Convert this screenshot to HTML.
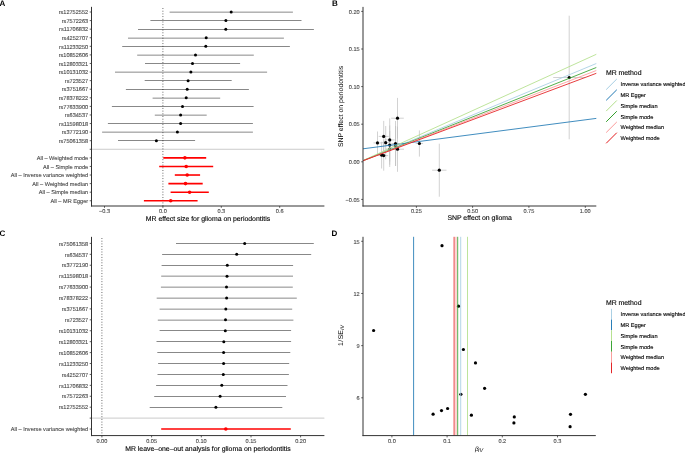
<!DOCTYPE html>
<html><head><meta charset="utf-8"><style>
html,body{margin:0;padding:0;background:#fff;}
body{width:685px;height:453px;overflow:hidden;}
svg{display:block;font-family:"Liberation Sans", sans-serif;will-change:transform;text-rendering:geometricPrecision;}
</style></head><body>
<svg width="685" height="453" viewBox="0 0 685 453">
<rect width="685" height="453" fill="#fff"/>
<text x="-0.50" y="6.00" font-size="8.0" text-anchor="start" fill="#000" stroke="#000" stroke-width="0" font-weight="bold" >A</text>
<text x="331.90" y="6.00" font-size="8.0" text-anchor="start" fill="#000" stroke="#000" stroke-width="0" font-weight="bold" >B</text>
<text x="-0.50" y="235.90" font-size="8.0" text-anchor="start" fill="#000" stroke="#000" stroke-width="0" font-weight="bold" >C</text>
<text x="331.50" y="236.00" font-size="8.0" text-anchor="start" fill="#000" stroke="#000" stroke-width="0" font-weight="bold" >D</text>
<line x1="91.50" y1="149.28" x2="324.40" y2="149.28" stroke="#BEBEBE" stroke-width="0.8" />
<line x1="162.90" y1="8.05" x2="162.90" y2="206.00" stroke="#000" stroke-width="0.65" stroke-dasharray="0.9 1.8"/>
<line x1="169.60" y1="12.15" x2="292.90" y2="12.15" stroke="#000" stroke-width="0.47" />
<circle cx="231.20" cy="12.00" r="1.5" fill="#000"/>
<line x1="150.40" y1="20.50" x2="301.50" y2="20.50" stroke="#000" stroke-width="0.47" />
<circle cx="225.90" cy="20.58" r="1.5" fill="#000"/>
<line x1="138.00" y1="29.50" x2="313.90" y2="29.50" stroke="#000" stroke-width="0.47" />
<circle cx="225.80" cy="29.16" r="1.5" fill="#000"/>
<line x1="128.00" y1="38.15" x2="283.90" y2="38.15" stroke="#000" stroke-width="0.47" />
<circle cx="206.20" cy="37.74" r="1.5" fill="#000"/>
<line x1="122.20" y1="46.50" x2="289.90" y2="46.50" stroke="#000" stroke-width="0.47" />
<circle cx="205.80" cy="46.32" r="1.5" fill="#000"/>
<line x1="137.20" y1="55.15" x2="253.80" y2="55.15" stroke="#000" stroke-width="0.47" />
<circle cx="195.50" cy="54.90" r="1.5" fill="#000"/>
<line x1="145.00" y1="63.50" x2="240.10" y2="63.50" stroke="#000" stroke-width="0.47" />
<circle cx="192.50" cy="63.48" r="1.5" fill="#000"/>
<line x1="115.00" y1="72.15" x2="267.10" y2="72.15" stroke="#000" stroke-width="0.47" />
<circle cx="190.90" cy="72.06" r="1.5" fill="#000"/>
<line x1="144.70" y1="80.50" x2="231.70" y2="80.50" stroke="#000" stroke-width="0.47" />
<circle cx="188.10" cy="80.64" r="1.5" fill="#000"/>
<line x1="125.90" y1="89.50" x2="248.90" y2="89.50" stroke="#000" stroke-width="0.47" />
<circle cx="187.20" cy="89.22" r="1.5" fill="#000"/>
<line x1="152.60" y1="98.15" x2="220.20" y2="98.15" stroke="#000" stroke-width="0.47" />
<circle cx="186.20" cy="97.80" r="1.5" fill="#000"/>
<line x1="111.90" y1="106.50" x2="253.60" y2="106.50" stroke="#000" stroke-width="0.47" />
<circle cx="182.50" cy="106.38" r="1.5" fill="#000"/>
<line x1="154.80" y1="115.15" x2="206.70" y2="115.15" stroke="#000" stroke-width="0.47" />
<circle cx="180.60" cy="114.96" r="1.5" fill="#000"/>
<line x1="107.90" y1="123.50" x2="252.90" y2="123.50" stroke="#000" stroke-width="0.47" />
<circle cx="180.60" cy="123.54" r="1.5" fill="#000"/>
<line x1="102.10" y1="132.15" x2="252.90" y2="132.15" stroke="#000" stroke-width="0.47" />
<circle cx="177.40" cy="132.12" r="1.5" fill="#000"/>
<line x1="118.00" y1="140.50" x2="195.10" y2="140.50" stroke="#000" stroke-width="0.47" />
<circle cx="156.40" cy="140.70" r="1.5" fill="#000"/>
<line x1="163.30" y1="157.86" x2="206.20" y2="157.86" stroke="#FF0000" stroke-width="1.6" />
<circle cx="184.90" cy="157.86" r="1.8" fill="#FF0000"/>
<line x1="159.20" y1="166.44" x2="213.20" y2="166.44" stroke="#FF0000" stroke-width="1.6" />
<circle cx="186.20" cy="166.44" r="1.8" fill="#FF0000"/>
<line x1="174.80" y1="175.02" x2="200.10" y2="175.02" stroke="#FF0000" stroke-width="1.6" />
<circle cx="187.20" cy="175.02" r="1.8" fill="#FF0000"/>
<line x1="168.40" y1="183.60" x2="202.70" y2="183.60" stroke="#FF0000" stroke-width="1.6" />
<circle cx="185.50" cy="183.60" r="1.8" fill="#FF0000"/>
<line x1="170.60" y1="192.18" x2="208.80" y2="192.18" stroke="#FF0000" stroke-width="1.6" />
<circle cx="189.60" cy="192.18" r="1.8" fill="#FF0000"/>
<line x1="143.90" y1="200.76" x2="197.60" y2="200.76" stroke="#FF0000" stroke-width="1.6" />
<circle cx="170.70" cy="200.76" r="1.8" fill="#FF0000"/>
<line x1="91.50" y1="6.85" x2="91.50" y2="206.50" stroke="#333333" stroke-width="1.0" />
<line x1="91.00" y1="206.00" x2="324.40" y2="206.00" stroke="#333333" stroke-width="1.0" />
<line x1="89.70" y1="12.00" x2="91.50" y2="12.00" stroke="#333333" stroke-width="0.8" />
<text x="88.20" y="14.20" font-size="5.6" text-anchor="end" fill="#4D4D4D" stroke="#4D4D4D" stroke-width="0.12" font-weight="normal" >rs12752552</text>
<line x1="89.70" y1="20.58" x2="91.50" y2="20.58" stroke="#333333" stroke-width="0.8" />
<text x="88.20" y="22.78" font-size="5.6" text-anchor="end" fill="#4D4D4D" stroke="#4D4D4D" stroke-width="0.12" font-weight="normal" >rs7572263</text>
<line x1="89.70" y1="29.16" x2="91.50" y2="29.16" stroke="#333333" stroke-width="0.8" />
<text x="88.20" y="31.36" font-size="5.6" text-anchor="end" fill="#4D4D4D" stroke="#4D4D4D" stroke-width="0.12" font-weight="normal" >rs11706832</text>
<line x1="89.70" y1="37.74" x2="91.50" y2="37.74" stroke="#333333" stroke-width="0.8" />
<text x="88.20" y="39.94" font-size="5.6" text-anchor="end" fill="#4D4D4D" stroke="#4D4D4D" stroke-width="0.12" font-weight="normal" >rs4252707</text>
<line x1="89.70" y1="46.32" x2="91.50" y2="46.32" stroke="#333333" stroke-width="0.8" />
<text x="88.20" y="48.52" font-size="5.6" text-anchor="end" fill="#4D4D4D" stroke="#4D4D4D" stroke-width="0.12" font-weight="normal" >rs11233250</text>
<line x1="89.70" y1="54.90" x2="91.50" y2="54.90" stroke="#333333" stroke-width="0.8" />
<text x="88.20" y="57.10" font-size="5.6" text-anchor="end" fill="#4D4D4D" stroke="#4D4D4D" stroke-width="0.12" font-weight="normal" >rs10852606</text>
<line x1="89.70" y1="63.48" x2="91.50" y2="63.48" stroke="#333333" stroke-width="0.8" />
<text x="88.20" y="65.68" font-size="5.6" text-anchor="end" fill="#4D4D4D" stroke="#4D4D4D" stroke-width="0.12" font-weight="normal" >rs12803321</text>
<line x1="89.70" y1="72.06" x2="91.50" y2="72.06" stroke="#333333" stroke-width="0.8" />
<text x="88.20" y="74.26" font-size="5.6" text-anchor="end" fill="#4D4D4D" stroke="#4D4D4D" stroke-width="0.12" font-weight="normal" >rs10131032</text>
<line x1="89.70" y1="80.64" x2="91.50" y2="80.64" stroke="#333333" stroke-width="0.8" />
<text x="88.20" y="82.84" font-size="5.6" text-anchor="end" fill="#4D4D4D" stroke="#4D4D4D" stroke-width="0.12" font-weight="normal" >rs723527</text>
<line x1="89.70" y1="89.22" x2="91.50" y2="89.22" stroke="#333333" stroke-width="0.8" />
<text x="88.20" y="91.42" font-size="5.6" text-anchor="end" fill="#4D4D4D" stroke="#4D4D4D" stroke-width="0.12" font-weight="normal" >rs3751667</text>
<line x1="89.70" y1="97.80" x2="91.50" y2="97.80" stroke="#333333" stroke-width="0.8" />
<text x="88.20" y="100.00" font-size="5.6" text-anchor="end" fill="#4D4D4D" stroke="#4D4D4D" stroke-width="0.12" font-weight="normal" >rs78378222</text>
<line x1="89.70" y1="106.38" x2="91.50" y2="106.38" stroke="#333333" stroke-width="0.8" />
<text x="88.20" y="108.58" font-size="5.6" text-anchor="end" fill="#4D4D4D" stroke="#4D4D4D" stroke-width="0.12" font-weight="normal" >rs77633900</text>
<line x1="89.70" y1="114.96" x2="91.50" y2="114.96" stroke="#333333" stroke-width="0.8" />
<text x="88.20" y="117.16" font-size="5.6" text-anchor="end" fill="#4D4D4D" stroke="#4D4D4D" stroke-width="0.12" font-weight="normal" >rs634537</text>
<line x1="89.70" y1="123.54" x2="91.50" y2="123.54" stroke="#333333" stroke-width="0.8" />
<text x="88.20" y="125.74" font-size="5.6" text-anchor="end" fill="#4D4D4D" stroke="#4D4D4D" stroke-width="0.12" font-weight="normal" >rs11598018</text>
<line x1="89.70" y1="132.12" x2="91.50" y2="132.12" stroke="#333333" stroke-width="0.8" />
<text x="88.20" y="134.32" font-size="5.6" text-anchor="end" fill="#4D4D4D" stroke="#4D4D4D" stroke-width="0.12" font-weight="normal" >rs3772190</text>
<line x1="89.70" y1="140.70" x2="91.50" y2="140.70" stroke="#333333" stroke-width="0.8" />
<text x="88.20" y="142.90" font-size="5.6" text-anchor="end" fill="#4D4D4D" stroke="#4D4D4D" stroke-width="0.12" font-weight="normal" >rs75061358</text>
<line x1="89.70" y1="149.28" x2="91.50" y2="149.28" stroke="#333333" stroke-width="0.8" />
<line x1="89.70" y1="157.86" x2="91.50" y2="157.86" stroke="#333333" stroke-width="0.8" />
<text x="88.20" y="160.06" font-size="5.6" text-anchor="end" fill="#4D4D4D" stroke="#4D4D4D" stroke-width="0.12" font-weight="normal" >All – Weighted mode</text>
<line x1="89.70" y1="166.44" x2="91.50" y2="166.44" stroke="#333333" stroke-width="0.8" />
<text x="88.20" y="168.64" font-size="5.6" text-anchor="end" fill="#4D4D4D" stroke="#4D4D4D" stroke-width="0.12" font-weight="normal" >All – Simple mode</text>
<line x1="89.70" y1="175.02" x2="91.50" y2="175.02" stroke="#333333" stroke-width="0.8" />
<text x="88.20" y="177.22" font-size="5.6" text-anchor="end" fill="#4D4D4D" stroke="#4D4D4D" stroke-width="0.12" font-weight="normal" >All – Inverse variance weighted</text>
<line x1="89.70" y1="183.60" x2="91.50" y2="183.60" stroke="#333333" stroke-width="0.8" />
<text x="88.20" y="185.80" font-size="5.6" text-anchor="end" fill="#4D4D4D" stroke="#4D4D4D" stroke-width="0.12" font-weight="normal" >All – Weighted median</text>
<line x1="89.70" y1="192.18" x2="91.50" y2="192.18" stroke="#333333" stroke-width="0.8" />
<text x="88.20" y="194.38" font-size="5.6" text-anchor="end" fill="#4D4D4D" stroke="#4D4D4D" stroke-width="0.12" font-weight="normal" >All – Simple median</text>
<line x1="89.70" y1="200.76" x2="91.50" y2="200.76" stroke="#333333" stroke-width="0.8" />
<text x="88.20" y="202.96" font-size="5.6" text-anchor="end" fill="#4D4D4D" stroke="#4D4D4D" stroke-width="0.12" font-weight="normal" >All – MR Egger</text>
<line x1="104.50" y1="206.00" x2="104.50" y2="207.80" stroke="#333333" stroke-width="0.8" />
<text x="104.50" y="213.10" font-size="5.6" text-anchor="middle" fill="#4D4D4D" stroke="#4D4D4D" stroke-width="0.12" font-weight="normal" >−0.3</text>
<line x1="162.90" y1="206.00" x2="162.90" y2="207.80" stroke="#333333" stroke-width="0.8" />
<text x="162.90" y="213.10" font-size="5.6" text-anchor="middle" fill="#4D4D4D" stroke="#4D4D4D" stroke-width="0.12" font-weight="normal" >0.0</text>
<line x1="221.30" y1="206.00" x2="221.30" y2="207.80" stroke="#333333" stroke-width="0.8" />
<text x="221.30" y="213.10" font-size="5.6" text-anchor="middle" fill="#4D4D4D" stroke="#4D4D4D" stroke-width="0.12" font-weight="normal" >0.3</text>
<line x1="279.70" y1="206.00" x2="279.70" y2="207.80" stroke="#333333" stroke-width="0.8" />
<text x="279.70" y="213.10" font-size="5.6" text-anchor="middle" fill="#4D4D4D" stroke="#4D4D4D" stroke-width="0.12" font-weight="normal" >0.6</text>
<text x="207.95" y="221.07" font-size="6.9" text-anchor="middle" fill="#000" stroke="#000" stroke-width="0.12" font-weight="normal" >MR effect size for glioma on periodontitis</text>
<line x1="91.50" y1="418.12" x2="324.40" y2="418.12" stroke="#BEBEBE" stroke-width="0.8" />
<line x1="101.90" y1="238.05" x2="101.90" y2="435.59" stroke="#000" stroke-width="0.65" stroke-dasharray="0.9 1.8"/>
<line x1="176.00" y1="243.50" x2="313.80" y2="243.50" stroke="#000" stroke-width="0.47" />
<circle cx="244.70" cy="243.40" r="1.5" fill="#000"/>
<line x1="162.10" y1="254.50" x2="311.20" y2="254.50" stroke="#000" stroke-width="0.47" />
<circle cx="236.70" cy="254.32" r="1.5" fill="#000"/>
<line x1="161.60" y1="265.50" x2="293.10" y2="265.50" stroke="#000" stroke-width="0.47" />
<circle cx="227.30" cy="265.24" r="1.5" fill="#000"/>
<line x1="161.20" y1="276.15" x2="293.00" y2="276.15" stroke="#000" stroke-width="0.47" />
<circle cx="227.00" cy="276.16" r="1.5" fill="#000"/>
<line x1="160.90" y1="287.15" x2="292.80" y2="287.15" stroke="#000" stroke-width="0.47" />
<circle cx="226.50" cy="287.08" r="1.5" fill="#000"/>
<line x1="156.70" y1="298.15" x2="296.80" y2="298.15" stroke="#000" stroke-width="0.47" />
<circle cx="226.60" cy="298.00" r="1.5" fill="#000"/>
<line x1="159.60" y1="309.15" x2="292.20" y2="309.15" stroke="#000" stroke-width="0.47" />
<circle cx="225.80" cy="308.92" r="1.5" fill="#000"/>
<line x1="157.80" y1="320.15" x2="293.40" y2="320.15" stroke="#000" stroke-width="0.47" />
<circle cx="225.50" cy="319.84" r="1.5" fill="#000"/>
<line x1="159.60" y1="330.50" x2="291.10" y2="330.50" stroke="#000" stroke-width="0.47" />
<circle cx="225.30" cy="330.76" r="1.5" fill="#000"/>
<line x1="156.50" y1="341.50" x2="291.10" y2="341.50" stroke="#000" stroke-width="0.47" />
<circle cx="223.80" cy="341.68" r="1.5" fill="#000"/>
<line x1="157.30" y1="352.50" x2="290.30" y2="352.50" stroke="#000" stroke-width="0.47" />
<circle cx="223.60" cy="352.60" r="1.5" fill="#000"/>
<line x1="158.10" y1="363.50" x2="289.20" y2="363.50" stroke="#000" stroke-width="0.47" />
<circle cx="223.60" cy="363.52" r="1.5" fill="#000"/>
<line x1="157.50" y1="374.50" x2="288.90" y2="374.50" stroke="#000" stroke-width="0.47" />
<circle cx="223.30" cy="374.44" r="1.5" fill="#000"/>
<line x1="156.10" y1="385.50" x2="287.50" y2="385.50" stroke="#000" stroke-width="0.47" />
<circle cx="221.80" cy="385.36" r="1.5" fill="#000"/>
<line x1="154.20" y1="396.50" x2="286.00" y2="396.50" stroke="#000" stroke-width="0.47" />
<circle cx="220.10" cy="396.28" r="1.5" fill="#000"/>
<line x1="149.70" y1="407.50" x2="282.30" y2="407.50" stroke="#000" stroke-width="0.47" />
<circle cx="215.90" cy="407.20" r="1.5" fill="#000"/>
<line x1="161.20" y1="429.04" x2="290.80" y2="429.04" stroke="#FF0000" stroke-width="1.6" />
<circle cx="225.80" cy="429.04" r="1.8" fill="#FF0000"/>
<line x1="91.50" y1="236.85" x2="91.50" y2="436.09" stroke="#333333" stroke-width="1.0" />
<line x1="91.00" y1="435.59" x2="324.40" y2="435.59" stroke="#333333" stroke-width="1.0" />
<line x1="89.70" y1="243.40" x2="91.50" y2="243.40" stroke="#333333" stroke-width="0.8" />
<text x="88.20" y="245.60" font-size="5.6" text-anchor="end" fill="#4D4D4D" stroke="#4D4D4D" stroke-width="0.12" font-weight="normal" >rs75061358</text>
<line x1="89.70" y1="254.32" x2="91.50" y2="254.32" stroke="#333333" stroke-width="0.8" />
<text x="88.20" y="256.52" font-size="5.6" text-anchor="end" fill="#4D4D4D" stroke="#4D4D4D" stroke-width="0.12" font-weight="normal" >rs634537</text>
<line x1="89.70" y1="265.24" x2="91.50" y2="265.24" stroke="#333333" stroke-width="0.8" />
<text x="88.20" y="267.44" font-size="5.6" text-anchor="end" fill="#4D4D4D" stroke="#4D4D4D" stroke-width="0.12" font-weight="normal" >rs3772190</text>
<line x1="89.70" y1="276.16" x2="91.50" y2="276.16" stroke="#333333" stroke-width="0.8" />
<text x="88.20" y="278.36" font-size="5.6" text-anchor="end" fill="#4D4D4D" stroke="#4D4D4D" stroke-width="0.12" font-weight="normal" >rs11598018</text>
<line x1="89.70" y1="287.08" x2="91.50" y2="287.08" stroke="#333333" stroke-width="0.8" />
<text x="88.20" y="289.28" font-size="5.6" text-anchor="end" fill="#4D4D4D" stroke="#4D4D4D" stroke-width="0.12" font-weight="normal" >rs77633900</text>
<line x1="89.70" y1="298.00" x2="91.50" y2="298.00" stroke="#333333" stroke-width="0.8" />
<text x="88.20" y="300.20" font-size="5.6" text-anchor="end" fill="#4D4D4D" stroke="#4D4D4D" stroke-width="0.12" font-weight="normal" >rs78378222</text>
<line x1="89.70" y1="308.92" x2="91.50" y2="308.92" stroke="#333333" stroke-width="0.8" />
<text x="88.20" y="311.12" font-size="5.6" text-anchor="end" fill="#4D4D4D" stroke="#4D4D4D" stroke-width="0.12" font-weight="normal" >rs3751667</text>
<line x1="89.70" y1="319.84" x2="91.50" y2="319.84" stroke="#333333" stroke-width="0.8" />
<text x="88.20" y="322.04" font-size="5.6" text-anchor="end" fill="#4D4D4D" stroke="#4D4D4D" stroke-width="0.12" font-weight="normal" >rs723527</text>
<line x1="89.70" y1="330.76" x2="91.50" y2="330.76" stroke="#333333" stroke-width="0.8" />
<text x="88.20" y="332.96" font-size="5.6" text-anchor="end" fill="#4D4D4D" stroke="#4D4D4D" stroke-width="0.12" font-weight="normal" >rs10131032</text>
<line x1="89.70" y1="341.68" x2="91.50" y2="341.68" stroke="#333333" stroke-width="0.8" />
<text x="88.20" y="343.88" font-size="5.6" text-anchor="end" fill="#4D4D4D" stroke="#4D4D4D" stroke-width="0.12" font-weight="normal" >rs12803321</text>
<line x1="89.70" y1="352.60" x2="91.50" y2="352.60" stroke="#333333" stroke-width="0.8" />
<text x="88.20" y="354.80" font-size="5.6" text-anchor="end" fill="#4D4D4D" stroke="#4D4D4D" stroke-width="0.12" font-weight="normal" >rs10852606</text>
<line x1="89.70" y1="363.52" x2="91.50" y2="363.52" stroke="#333333" stroke-width="0.8" />
<text x="88.20" y="365.72" font-size="5.6" text-anchor="end" fill="#4D4D4D" stroke="#4D4D4D" stroke-width="0.12" font-weight="normal" >rs11233250</text>
<line x1="89.70" y1="374.44" x2="91.50" y2="374.44" stroke="#333333" stroke-width="0.8" />
<text x="88.20" y="376.64" font-size="5.6" text-anchor="end" fill="#4D4D4D" stroke="#4D4D4D" stroke-width="0.12" font-weight="normal" >rs4252707</text>
<line x1="89.70" y1="385.36" x2="91.50" y2="385.36" stroke="#333333" stroke-width="0.8" />
<text x="88.20" y="387.56" font-size="5.6" text-anchor="end" fill="#4D4D4D" stroke="#4D4D4D" stroke-width="0.12" font-weight="normal" >rs11706832</text>
<line x1="89.70" y1="396.28" x2="91.50" y2="396.28" stroke="#333333" stroke-width="0.8" />
<text x="88.20" y="398.48" font-size="5.6" text-anchor="end" fill="#4D4D4D" stroke="#4D4D4D" stroke-width="0.12" font-weight="normal" >rs7572263</text>
<line x1="89.70" y1="407.20" x2="91.50" y2="407.20" stroke="#333333" stroke-width="0.8" />
<text x="88.20" y="409.40" font-size="5.6" text-anchor="end" fill="#4D4D4D" stroke="#4D4D4D" stroke-width="0.12" font-weight="normal" >rs12752552</text>
<line x1="89.70" y1="418.12" x2="91.50" y2="418.12" stroke="#333333" stroke-width="0.8" />
<line x1="89.70" y1="429.04" x2="91.50" y2="429.04" stroke="#333333" stroke-width="0.8" />
<text x="88.20" y="431.24" font-size="5.6" text-anchor="end" fill="#4D4D4D" stroke="#4D4D4D" stroke-width="0.12" font-weight="normal" >All – Inverse variance weighted</text>
<line x1="101.90" y1="435.59" x2="101.90" y2="437.39" stroke="#333333" stroke-width="0.8" />
<text x="101.90" y="443.10" font-size="5.6" text-anchor="middle" fill="#4D4D4D" stroke="#4D4D4D" stroke-width="0.12" font-weight="normal" >0.00</text>
<line x1="151.60" y1="435.59" x2="151.60" y2="437.39" stroke="#333333" stroke-width="0.8" />
<text x="151.60" y="443.10" font-size="5.6" text-anchor="middle" fill="#4D4D4D" stroke="#4D4D4D" stroke-width="0.12" font-weight="normal" >0.05</text>
<line x1="201.30" y1="435.59" x2="201.30" y2="437.39" stroke="#333333" stroke-width="0.8" />
<text x="201.30" y="443.10" font-size="5.6" text-anchor="middle" fill="#4D4D4D" stroke="#4D4D4D" stroke-width="0.12" font-weight="normal" >0.10</text>
<line x1="251.00" y1="435.59" x2="251.00" y2="437.39" stroke="#333333" stroke-width="0.8" />
<text x="251.00" y="443.10" font-size="5.6" text-anchor="middle" fill="#4D4D4D" stroke="#4D4D4D" stroke-width="0.12" font-weight="normal" >0.15</text>
<line x1="300.60" y1="435.59" x2="300.60" y2="437.39" stroke="#333333" stroke-width="0.8" />
<text x="300.60" y="443.10" font-size="5.6" text-anchor="middle" fill="#4D4D4D" stroke="#4D4D4D" stroke-width="0.12" font-weight="normal" >0.20</text>
<text x="207.95" y="451.47" font-size="6.9" text-anchor="middle" fill="#000" stroke="#000" stroke-width="0.12" font-weight="normal" >MR leave–one–out analysis for glioma on periodontitis</text>
<line x1="377.50" y1="131.50" x2="377.50" y2="154.30" stroke="#BEBEBE" stroke-width="0.7" />
<line x1="383.70" y1="120.90" x2="383.70" y2="151.90" stroke="#BEBEBE" stroke-width="0.7" />
<line x1="385.70" y1="126.00" x2="385.70" y2="159.40" stroke="#BEBEBE" stroke-width="0.7" />
<line x1="389.70" y1="118.40" x2="389.70" y2="161.40" stroke="#BEBEBE" stroke-width="0.7" />
<line x1="389.70" y1="125.50" x2="389.70" y2="164.70" stroke="#BEBEBE" stroke-width="0.7" />
<line x1="395.50" y1="121.00" x2="395.50" y2="166.00" stroke="#BEBEBE" stroke-width="0.7" />
<line x1="397.50" y1="97.90" x2="397.50" y2="138.50" stroke="#BEBEBE" stroke-width="0.7" />
<line x1="397.50" y1="126.60" x2="397.50" y2="171.80" stroke="#BEBEBE" stroke-width="0.7" />
<line x1="381.60" y1="141.70" x2="381.60" y2="168.50" stroke="#BEBEBE" stroke-width="0.7" />
<line x1="383.70" y1="140.50" x2="383.70" y2="170.70" stroke="#BEBEBE" stroke-width="0.7" />
<line x1="419.40" y1="130.40" x2="419.40" y2="156.60" stroke="#BEBEBE" stroke-width="0.7" />
<line x1="439.30" y1="143.70" x2="439.30" y2="196.70" stroke="#BEBEBE" stroke-width="0.7" />
<line x1="569.20" y1="15.70" x2="569.20" y2="139.30" stroke="#BEBEBE" stroke-width="0.7" />
<line x1="389.70" y1="131.00" x2="389.70" y2="167.00" stroke="#BEBEBE" stroke-width="0.7" />
<line x1="395.60" y1="126.00" x2="395.60" y2="166.00" stroke="#BEBEBE" stroke-width="0.7" />
<line x1="373.50" y1="142.90" x2="381.50" y2="142.90" stroke="#BEBEBE" stroke-width="0.7" />
<line x1="378.70" y1="136.40" x2="388.70" y2="136.40" stroke="#BEBEBE" stroke-width="0.7" />
<line x1="381.70" y1="142.70" x2="389.70" y2="142.70" stroke="#BEBEBE" stroke-width="0.7" />
<line x1="384.70" y1="139.90" x2="394.70" y2="139.90" stroke="#BEBEBE" stroke-width="0.7" />
<line x1="385.70" y1="145.10" x2="393.70" y2="145.10" stroke="#BEBEBE" stroke-width="0.7" />
<line x1="391.50" y1="143.50" x2="399.50" y2="143.50" stroke="#BEBEBE" stroke-width="0.7" />
<line x1="391.20" y1="118.20" x2="403.80" y2="118.20" stroke="#BEBEBE" stroke-width="0.7" />
<line x1="391.00" y1="149.20" x2="404.00" y2="149.20" stroke="#BEBEBE" stroke-width="0.7" />
<line x1="377.60" y1="155.10" x2="385.60" y2="155.10" stroke="#BEBEBE" stroke-width="0.7" />
<line x1="379.20" y1="155.60" x2="388.20" y2="155.60" stroke="#BEBEBE" stroke-width="0.7" />
<line x1="415.70" y1="143.50" x2="423.10" y2="143.50" stroke="#BEBEBE" stroke-width="0.7" />
<line x1="432.10" y1="170.20" x2="446.50" y2="170.20" stroke="#BEBEBE" stroke-width="0.7" />
<line x1="553.20" y1="77.50" x2="585.20" y2="77.50" stroke="#BEBEBE" stroke-width="0.7" />
<line x1="385.70" y1="149.00" x2="393.70" y2="149.00" stroke="#BEBEBE" stroke-width="0.7" />
<line x1="391.60" y1="146.00" x2="399.60" y2="146.00" stroke="#BEBEBE" stroke-width="0.7" />
<circle cx="377.50" cy="142.90" r="1.6" fill="#000"/>
<circle cx="383.70" cy="136.40" r="1.6" fill="#000"/>
<circle cx="385.70" cy="142.70" r="1.6" fill="#000"/>
<circle cx="389.70" cy="139.90" r="1.6" fill="#000"/>
<circle cx="389.70" cy="145.10" r="1.6" fill="#000"/>
<circle cx="395.50" cy="143.50" r="1.6" fill="#000"/>
<circle cx="397.50" cy="118.20" r="1.6" fill="#000"/>
<circle cx="397.50" cy="149.20" r="1.6" fill="#000"/>
<circle cx="381.60" cy="155.10" r="1.6" fill="#000"/>
<circle cx="383.70" cy="155.60" r="1.6" fill="#000"/>
<circle cx="419.40" cy="143.50" r="1.6" fill="#000"/>
<circle cx="439.30" cy="170.20" r="1.6" fill="#000"/>
<circle cx="569.20" cy="77.50" r="1.6" fill="#000"/>
<circle cx="389.70" cy="149.00" r="1.6" fill="#000"/>
<circle cx="395.60" cy="146.00" r="1.6" fill="#000"/>
<line x1="363.00" y1="160.63" x2="596.30" y2="63.50" stroke="#A6CEE3" stroke-width="0.85" />
<line x1="363.00" y1="148.80" x2="596.30" y2="118.40" stroke="#1F78B4" stroke-width="0.85" />
<line x1="363.00" y1="160.53" x2="596.30" y2="54.30" stroke="#B2DF8A" stroke-width="0.85" />
<line x1="363.00" y1="160.68" x2="596.30" y2="67.50" stroke="#33A02C" stroke-width="0.85" />
<line x1="363.00" y1="160.72" x2="596.30" y2="70.50" stroke="#FB9A99" stroke-width="0.85" />
<line x1="363.00" y1="160.75" x2="596.30" y2="73.30" stroke="#E31A1C" stroke-width="0.85" />
<line x1="363.00" y1="6.90" x2="363.00" y2="206.50" stroke="#333333" stroke-width="1.0" />
<line x1="362.50" y1="206.00" x2="596.30" y2="206.00" stroke="#333333" stroke-width="1.0" />
<line x1="361.20" y1="11.40" x2="363.00" y2="11.40" stroke="#333333" stroke-width="0.8" />
<text x="359.70" y="13.60" font-size="5.6" text-anchor="end" fill="#4D4D4D" stroke="#4D4D4D" stroke-width="0.12" font-weight="normal" >0.20</text>
<line x1="361.20" y1="49.00" x2="363.00" y2="49.00" stroke="#333333" stroke-width="0.8" />
<text x="359.70" y="51.20" font-size="5.6" text-anchor="end" fill="#4D4D4D" stroke="#4D4D4D" stroke-width="0.12" font-weight="normal" >0.15</text>
<line x1="361.20" y1="86.60" x2="363.00" y2="86.60" stroke="#333333" stroke-width="0.8" />
<text x="359.70" y="88.80" font-size="5.6" text-anchor="end" fill="#4D4D4D" stroke="#4D4D4D" stroke-width="0.12" font-weight="normal" >0.10</text>
<line x1="361.20" y1="124.20" x2="363.00" y2="124.20" stroke="#333333" stroke-width="0.8" />
<text x="359.70" y="126.40" font-size="5.6" text-anchor="end" fill="#4D4D4D" stroke="#4D4D4D" stroke-width="0.12" font-weight="normal" >0.05</text>
<line x1="361.20" y1="161.80" x2="363.00" y2="161.80" stroke="#333333" stroke-width="0.8" />
<text x="359.70" y="164.00" font-size="5.6" text-anchor="end" fill="#4D4D4D" stroke="#4D4D4D" stroke-width="0.12" font-weight="normal" >0.00</text>
<line x1="361.20" y1="199.40" x2="363.00" y2="199.40" stroke="#333333" stroke-width="0.8" />
<text x="359.70" y="201.60" font-size="5.6" text-anchor="end" fill="#4D4D4D" stroke="#4D4D4D" stroke-width="0.12" font-weight="normal" >−0.05</text>
<line x1="416.40" y1="206.00" x2="416.40" y2="207.80" stroke="#333333" stroke-width="0.8" />
<text x="416.40" y="213.10" font-size="5.6" text-anchor="middle" fill="#4D4D4D" stroke="#4D4D4D" stroke-width="0.12" font-weight="normal" >0.25</text>
<line x1="472.60" y1="206.00" x2="472.60" y2="207.80" stroke="#333333" stroke-width="0.8" />
<text x="472.60" y="213.10" font-size="5.6" text-anchor="middle" fill="#4D4D4D" stroke="#4D4D4D" stroke-width="0.12" font-weight="normal" >0.50</text>
<line x1="528.90" y1="206.00" x2="528.90" y2="207.80" stroke="#333333" stroke-width="0.8" />
<text x="528.90" y="213.10" font-size="5.6" text-anchor="middle" fill="#4D4D4D" stroke="#4D4D4D" stroke-width="0.12" font-weight="normal" >0.75</text>
<line x1="585.30" y1="206.00" x2="585.30" y2="207.80" stroke="#333333" stroke-width="0.8" />
<text x="585.30" y="213.10" font-size="5.6" text-anchor="middle" fill="#4D4D4D" stroke="#4D4D4D" stroke-width="0.12" font-weight="normal" >1.00</text>
<text x="479.65" y="220.47" font-size="6.9" text-anchor="middle" fill="#000" stroke="#000" stroke-width="0.12" font-weight="normal" >SNP effect on glioma</text>
<text transform="translate(343.0,106.45) rotate(-90)" font-size="6.9" text-anchor="middle" fill="#000">SNP effect on periodontitis</text>
<text x="605.90" y="74.57" font-size="6.9" text-anchor="start" fill="#000" stroke="#000" stroke-width="0.12" font-weight="normal" >MR method</text>
<line x1="606.20" y1="89.60" x2="616.80" y2="79.00" stroke="#A6CEE3" stroke-width="1.0" />
<text x="620.60" y="86.20" font-size="5.6" text-anchor="start" fill="#000" stroke="#000" stroke-width="0.12" font-weight="normal" >Inverse variance weighted</text>
<line x1="606.20" y1="100.34" x2="616.80" y2="89.74" stroke="#1F78B4" stroke-width="1.0" />
<text x="620.60" y="97.00" font-size="5.6" text-anchor="start" fill="#000" stroke="#000" stroke-width="0.12" font-weight="normal" >MR Egger</text>
<line x1="606.20" y1="111.08" x2="616.80" y2="100.48" stroke="#B2DF8A" stroke-width="1.0" />
<text x="620.60" y="107.80" font-size="5.6" text-anchor="start" fill="#000" stroke="#000" stroke-width="0.12" font-weight="normal" >Simple median</text>
<line x1="606.20" y1="121.82" x2="616.80" y2="111.22" stroke="#33A02C" stroke-width="1.0" />
<text x="620.60" y="118.60" font-size="5.6" text-anchor="start" fill="#000" stroke="#000" stroke-width="0.12" font-weight="normal" >Simple mode</text>
<line x1="606.20" y1="132.56" x2="616.80" y2="121.96" stroke="#FB9A99" stroke-width="1.0" />
<text x="620.60" y="129.40" font-size="5.6" text-anchor="start" fill="#000" stroke="#000" stroke-width="0.12" font-weight="normal" >Weighted median</text>
<line x1="606.20" y1="143.30" x2="616.80" y2="132.70" stroke="#E31A1C" stroke-width="1.0" />
<text x="620.60" y="140.20" font-size="5.6" text-anchor="start" fill="#000" stroke="#000" stroke-width="0.12" font-weight="normal" >Weighted mode</text>
<circle cx="442.00" cy="245.70" r="1.6" fill="#000"/>
<circle cx="373.60" cy="330.50" r="1.6" fill="#000"/>
<circle cx="458.50" cy="306.20" r="1.6" fill="#000"/>
<circle cx="463.40" cy="349.50" r="1.6" fill="#000"/>
<circle cx="475.50" cy="362.90" r="1.6" fill="#000"/>
<circle cx="484.60" cy="388.30" r="1.6" fill="#000"/>
<circle cx="460.90" cy="394.30" r="1.6" fill="#000"/>
<circle cx="433.10" cy="414.20" r="1.6" fill="#000"/>
<circle cx="441.50" cy="410.60" r="1.6" fill="#000"/>
<circle cx="447.60" cy="408.50" r="1.6" fill="#000"/>
<circle cx="471.40" cy="415.20" r="1.6" fill="#000"/>
<circle cx="514.30" cy="416.90" r="1.6" fill="#000"/>
<circle cx="513.90" cy="422.90" r="1.6" fill="#000"/>
<circle cx="570.50" cy="414.30" r="1.6" fill="#000"/>
<circle cx="570.10" cy="426.70" r="1.6" fill="#000"/>
<circle cx="585.40" cy="394.30" r="1.6" fill="#000"/>
<line x1="460.70" y1="236.80" x2="460.70" y2="435.60" stroke="#A6CEE3" stroke-width="0.85" />
<line x1="413.60" y1="236.80" x2="413.60" y2="435.60" stroke="#1F78B4" stroke-width="0.85" />
<line x1="467.50" y1="236.80" x2="467.50" y2="435.60" stroke="#B2DF8A" stroke-width="0.85" />
<line x1="457.70" y1="236.80" x2="457.70" y2="435.60" stroke="#33A02C" stroke-width="0.85" />
<line x1="456.00" y1="236.80" x2="456.00" y2="435.60" stroke="#FB9A99" stroke-width="0.85" />
<line x1="454.10" y1="236.80" x2="454.10" y2="435.60" stroke="#E31A1C" stroke-width="0.85" />
<line x1="363.00" y1="236.80" x2="363.00" y2="436.10" stroke="#333333" stroke-width="1.0" />
<line x1="362.50" y1="435.60" x2="595.80" y2="435.60" stroke="#333333" stroke-width="1.0" />
<line x1="361.20" y1="241.30" x2="363.00" y2="241.30" stroke="#333333" stroke-width="0.8" />
<text x="359.70" y="243.50" font-size="5.6" text-anchor="end" fill="#4D4D4D" stroke="#4D4D4D" stroke-width="0.12" font-weight="normal" >15</text>
<line x1="361.20" y1="293.47" x2="363.00" y2="293.47" stroke="#333333" stroke-width="0.8" />
<text x="359.70" y="295.67" font-size="5.6" text-anchor="end" fill="#4D4D4D" stroke="#4D4D4D" stroke-width="0.12" font-weight="normal" >12</text>
<line x1="361.20" y1="345.64" x2="363.00" y2="345.64" stroke="#333333" stroke-width="0.8" />
<text x="359.70" y="347.84" font-size="5.6" text-anchor="end" fill="#4D4D4D" stroke="#4D4D4D" stroke-width="0.12" font-weight="normal" >9</text>
<line x1="361.20" y1="397.81" x2="363.00" y2="397.81" stroke="#333333" stroke-width="0.8" />
<text x="359.70" y="400.01" font-size="5.6" text-anchor="end" fill="#4D4D4D" stroke="#4D4D4D" stroke-width="0.12" font-weight="normal" >6</text>
<line x1="391.90" y1="435.60" x2="391.90" y2="437.40" stroke="#333333" stroke-width="0.8" />
<text x="391.90" y="443.10" font-size="5.6" text-anchor="middle" fill="#4D4D4D" stroke="#4D4D4D" stroke-width="0.12" font-weight="normal" >0.0</text>
<line x1="447.10" y1="435.60" x2="447.10" y2="437.40" stroke="#333333" stroke-width="0.8" />
<text x="447.10" y="443.10" font-size="5.6" text-anchor="middle" fill="#4D4D4D" stroke="#4D4D4D" stroke-width="0.12" font-weight="normal" >0.1</text>
<line x1="502.30" y1="435.60" x2="502.30" y2="437.40" stroke="#333333" stroke-width="0.8" />
<text x="502.30" y="443.10" font-size="5.6" text-anchor="middle" fill="#4D4D4D" stroke="#4D4D4D" stroke-width="0.12" font-weight="normal" >0.2</text>
<line x1="557.50" y1="435.60" x2="557.50" y2="437.40" stroke="#333333" stroke-width="0.8" />
<text x="557.50" y="443.10" font-size="5.6" text-anchor="middle" fill="#4D4D4D" stroke="#4D4D4D" stroke-width="0.12" font-weight="normal" >0.3</text>
<text x="475.1" y="450.5" font-size="6.4" fill="#000" font-style="italic">β</text>
<text x="478.0" y="451.8" font-size="5.4" fill="#000" font-style="italic">IV</text>
<text transform="translate(343.0,346.0) rotate(-90)" font-size="6.9" fill="#000">1<tspan dx="0.5">/</tspan><tspan dx="0.5">SE</tspan><tspan font-size="5.2" dy="1.0" font-style="italic">IV</tspan></text>
<text x="605.90" y="304.57" font-size="6.9" text-anchor="start" fill="#000" stroke="#000" stroke-width="0.12" font-weight="normal" >MR method</text>
<line x1="611.50" y1="308.80" x2="611.50" y2="319.54" stroke="#A6CEE3" stroke-width="0.95" />
<text x="620.60" y="316.20" font-size="5.6" text-anchor="start" fill="#000" stroke="#000" stroke-width="0.12" font-weight="normal" >Inverse variance weighted</text>
<line x1="611.50" y1="319.54" x2="611.50" y2="330.28" stroke="#1F78B4" stroke-width="0.95" />
<text x="620.60" y="327.00" font-size="5.6" text-anchor="start" fill="#000" stroke="#000" stroke-width="0.12" font-weight="normal" >MR Egger</text>
<line x1="611.50" y1="330.28" x2="611.50" y2="341.02" stroke="#B2DF8A" stroke-width="0.95" />
<text x="620.60" y="337.80" font-size="5.6" text-anchor="start" fill="#000" stroke="#000" stroke-width="0.12" font-weight="normal" >Simple median</text>
<line x1="611.50" y1="341.02" x2="611.50" y2="351.76" stroke="#33A02C" stroke-width="0.95" />
<text x="620.60" y="348.60" font-size="5.6" text-anchor="start" fill="#000" stroke="#000" stroke-width="0.12" font-weight="normal" >Simple mode</text>
<line x1="611.50" y1="351.76" x2="611.50" y2="362.50" stroke="#FB9A99" stroke-width="0.95" />
<text x="620.60" y="359.40" font-size="5.6" text-anchor="start" fill="#000" stroke="#000" stroke-width="0.12" font-weight="normal" >Weighted median</text>
<line x1="611.50" y1="362.50" x2="611.50" y2="373.24" stroke="#E31A1C" stroke-width="0.95" />
<text x="620.60" y="370.20" font-size="5.6" text-anchor="start" fill="#000" stroke="#000" stroke-width="0.12" font-weight="normal" >Weighted mode</text>
</svg>
</body></html>
